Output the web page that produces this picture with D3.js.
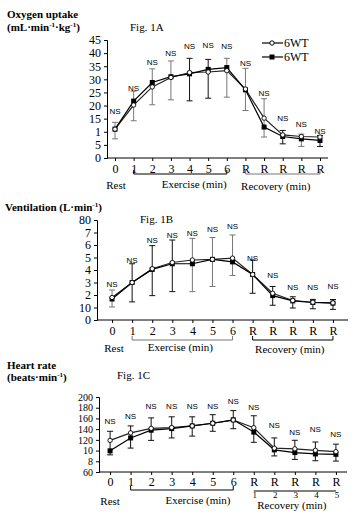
<!DOCTYPE html>
<html><head><meta charset="utf-8">
<script src="https://cdn.jsdelivr.net/npm/d3@7"></script>
<style>body{margin:0;background:#fff}svg{display:block}</style>
</head><body><svg id="c" width="352" height="515"></svg>
<script>
const categories = ["0","1","2","3","4","5","6","R","R","R","R","R"];
const recoveryMinutes = ["1","2","3","4","5"];
const groupLabels = ["Rest","Exercise (min)","Recovery (min)"];
const seriesNames = ["6WT","6WT"];
const nsText = "NS";

// Fig. 1A  Oxygen uptake
const vo2Open   = [11.0,20.2,27.1,30.7,32.6,32.8,33.3,26.3,15.2,8.8,8.2,8.0];
const vo2Filled = [11.0,21.7,28.8,31.0,32.1,33.8,34.5,26.0,11.8,8.2,7.3,6.7];
const vo2ErrHi  = [13.6,25.5,34.0,37.0,38.0,37.6,38.0,34.2,22.6,10.5,9.1,8.6];
const vo2ErrLo  = [7.3,14.2,20.3,22.2,21.8,22.8,23.2,18.1,8.0,5.4,4.4,4.4];
const vo2ErrOf  = ["o","o","o","o","f","f","o","o","o","f","o","f"];
const vo2NS     = [18,26.5,36.5,40,42.6,43.2,42.6,36,24.6,15.1,12.9,10.3];
const vo2Ticks  = [0,5,10,15,20,25,30,35,40,45];
const vo2TickLabels = ["0","5","1","15","20","25","30","35","40","45"];

// Fig. 1B  Ventilation
const veOpen    = [18,30,41,46,48,48.5,49.5,36.4,21.4,15.6,14.2,13.7];
const veFilled  = [16.8,30,40.5,45,45,48.5,46.5,36.4,19.5,15.3,14,13.5];
const veErrHi   = [24,45,59.5,64,65.3,66,68,48,26.8,18.6,16.5,16.4];
const veErrLo   = [10.4,14.5,19.5,22.7,22.7,26.8,35.6,21.4,11.8,9.6,9,8.5];
const veErrOf   = ["o","f","f","f","o","o","o","f","f","f","f","f"];
const veNS      = [29,48,63.5,68,69.3,73,75,49.3,36,26,26,26.7];
const veTicks   = [0,10,20,30,40,50,60,70,80];
const veTickLabels = ["0","10","2","3","4","5","6","7","80"];

// Fig. 1C  Heart rate
const hrOpen    = [119,133,141.5,143,146,151,157,142.7,104.5,103.3,100.5,98];
const hrFilled  = [99.5,123.6,138,141,146,151,157.4,134.5,101.4,96.3,93.7,93];
const hrErrHi   = [136,146,161,163,163,167,174.6,165,123.6,119.2,116,112];
const hrErrLo   = [92,104.6,119,123.6,127,136,140.8,115.4,90,83.5,81,80.4];
const hrErrOf   = ["f","f","f","f","f","f","f","f","f","f","f","f"];
const hrNS      = [154,165,183.7,183.7,183.7,183.7,193,181,146.6,133.4,139.7,131];
const hrTicks   = [60,80,100,120,140,160,180,200];
const hrTickLabels = ["60","8","10","120","140","160","180","200"];

const svg = d3.select("#c");
const SERIF = "'Liberation Serif','Times New Roman',serif";
const SANS = "'Liberation Sans',Arial,sans-serif";

function rich(t, parts){
  let up = false;
  parts.forEach(([txt, s])=>{
    const ts = t.append("tspan").text(txt);
    if(s && !up){ ts.attr("dy",-4); up = true; }
    else if(!s && up){ ts.attr("dy",4); up = false; }
    if(s) ts.attr("font-size","7px");
  });
}

function panel(cfg){
  const g = svg.append("g");
  const idx = d3.range(categories.length);
  const x = d3.scalePoint().domain(idx).range(cfg.xr).padding(cfg.pad);
  const y = d3.scaleLinear().domain(cfg.dom).range(cfg.yr);

  const ya = d3.axisLeft(y).tickValues(cfg.ticks).tickSize(3).tickPadding(3)
     .tickFormat((d,i)=>cfg.tickLabels[i]);
  const yg = g.append("g").attr("transform",`translate(${cfg.xr[0]},0)`).call(ya);
  yg.selectAll("text").attr("font-family",SERIF).attr("font-size",cfg.yfs||"12px").attr("fill","#000");
  yg.selectAll("line,path").attr("stroke","#000");

  const xa = d3.axisBottom(x).tickSize(3).tickPadding(cfg.xpad||3).tickFormat(i=>categories[i]);
  const xg = g.append("g").attr("transform",`translate(0,${cfg.yr[0]})`).call(xa);
  xg.select("path").attr("d",`M${cfg.xr[0]},0H${cfg.xr[1]}`).attr("stroke","#000");
  xg.selectAll("line").attr("stroke","#000");
  xg.selectAll("text").attr("font-family",SERIF).attr("font-size","12px").attr("fill","#000");

  const cap = 3;
  idx.forEach(i=>{
    const col = cfg.errOf[i]==="o" ? "#777" : "#111";
    const xx = x(i);
    g.append("line").attr("x1",xx).attr("x2",xx).attr("y1",y(cfg.hi[i])).attr("y2",y(cfg.lo[i]))
      .attr("stroke",col).attr("stroke-width",1);
    [cfg.hi[i],cfg.lo[i]].forEach(v=>g.append("line").attr("x1",xx-cap).attr("x2",xx+cap)
      .attr("y1",y(v)).attr("y2",y(v)).attr("stroke",col).attr("stroke-width",1));
  });

  const line = d3.line().x((d,i)=>x(i)).y(d=>y(d));
  g.append("path").attr("d",line(cfg.open)).attr("fill","none").attr("stroke","#222").attr("stroke-width",1.2);
  g.append("path").attr("d",line(cfg.filled)).attr("fill","none").attr("stroke","#000").attr("stroke-width",1.2);
  cfg.filled.forEach((v,i)=>g.append("rect").attr("x",x(i)-2.5).attr("y",y(v)-2.5)
    .attr("width",5).attr("height",5).attr("fill","#000"));
  cfg.open.forEach((v,i)=>g.append("circle").attr("cx",x(i)).attr("cy",y(v)).attr("r",2.2)
    .attr("fill","#fff").attr("stroke","#000").attr("stroke-width",0.9));

  cfg.ns.forEach((v,i)=>g.append("text").attr("x",x(i)).attr("y",y(v)).attr("dy","0.35em")
    .attr("text-anchor","middle").attr("font-family",SANS).attr("font-size","8px").text(nsText));

  return {g,x,y};
}

function brackets(p, cfg){
  const {g,x} = p;
  const yb = cfg.by;
  g.append("path").attr("d",`M${x(1)},${yb-4}V${yb}H${x(6)}V${yb-4}`)
    .attr("fill","none").attr("stroke",cfg.exCol).attr("stroke-width",1);
  if(cfg.recLine){
    g.append("line").attr("x1",x(7)).attr("x2",x(11)).attr("y1",yb+1).attr("y2",yb+1).attr("stroke","#000");
    recoveryMinutes.forEach((m,k)=>g.append("text").attr("x",x(7+k)+1).attr("y",yb+8)
      .attr("text-anchor","middle").attr("font-family",SERIF).attr("font-size","9px").text(m));
  } else {
    g.append("path").attr("d",`M${x(7)},${yb-4}V${yb}H${x(11)}V${yb-4}`)
      .attr("fill","none").attr("stroke",cfg.recCol).attr("stroke-width",1);
  }
  const ly = cfg.ly;
  g.append("text").attr("x",x(0)+cfg.restDx).attr("y",ly).attr("text-anchor","middle")
    .attr("font-family",SERIF).attr("font-size","11px").text(groupLabels[0]);
  g.append("text").attr("x",(x(1)+x(6))/2+cfg.exDx).attr("y",ly-1).attr("text-anchor","middle")
    .attr("font-family",SERIF).attr("font-size","11px").text(groupLabels[1]);
  g.append("text").attr("x",(x(7)+x(11))/2+cfg.recDx).attr("y",ly+(cfg.recLy||1)).attr("text-anchor","middle")
    .attr("font-family",SERIF).attr("font-size","11px").text(groupLabels[2]);
}

function boldText(x0,y0){
  return svg.append("text").attr("x",x0).attr("y",y0).attr("font-family",SERIF)
    .attr("font-weight","bold").attr("font-size","11px");
}

// ---------- Panel A
boldText(7,18).text("Oxygen uptake");
rich(boldText(7,31),[["(mL·min",0],["-1",1],["·kg",0],["-1",1],[")",0]]);
svg.append("text").attr("x",130).attr("y",31).attr("font-family",SERIF).attr("font-size","11px").text("Fig. 1A");

const pA = panel({xr:[107,328],pad:0.43,yr:[158,40],dom:[0,45],ticks:vo2Ticks,tickLabels:vo2TickLabels,
  open:vo2Open,filled:vo2Filled,hi:vo2ErrHi,lo:vo2ErrLo,errOf:vo2ErrOf,ns:vo2NS});
brackets(pA,{by:174,exCol:"#000",recCol:"#777",ly:189,restDx:1,exDx:14,recDx:-7});

const lg = svg.append("g");
[[43,"o"],[57,"f"]].forEach(([ly,k],i)=>{
  lg.append("line").attr("x1",262).attr("x2",283).attr("y1",ly).attr("y2",ly).attr("stroke","#000").attr("stroke-width",1.2);
  if(k==="o") lg.append("circle").attr("cx",272).attr("cy",ly).attr("r",2.2).attr("fill","#fff").attr("stroke","#000");
  else lg.append("rect").attr("x",269.5).attr("y",ly-2.5).attr("width",5).attr("height",5).attr("fill","#000");
  lg.append("text").attr("x",284).attr("y",ly+4).attr("font-family",SERIF).attr("font-size","12px").text(seriesNames[i]);
});

// ---------- Panel B
rich(boldText(5,211),[["Ventilation (L·min",0],["-1",1],[")",0]]);
svg.append("text").attr("x",140).attr("y",223).attr("font-family",SERIF).attr("font-size","11px").text("Fig. 1B");
const pB = panel({xr:[97,348],pad:0.75,yr:[320,220],dom:[0,80],ticks:veTicks,tickLabels:veTickLabels,
  open:veOpen,filled:veFilled,hi:veErrHi,lo:veErrLo,errOf:veErrOf,ns:veNS});
brackets(pB,{by:340,exCol:"#777",recCol:"#000",ly:352,restDx:2,exDx:-2,recDx:-3});

// ---------- Panel C
boldText(7,369).text("Heart rate");
rich(boldText(7,381),[["(beats·min",0],["-1",1],[")",0]]);
svg.append("text").attr("x",117).attr("y",379).attr("font-family",SERIF).attr("font-size","11px").text("Fig. 1C");
const pC = panel({xr:[99,347],pad:0.54,yr:[472,397],dom:[60,200],ticks:hrTicks,tickLabels:hrTickLabels,
  open:hrOpen,filled:hrFilled,hi:hrErrHi,lo:hrErrLo,errOf:hrErrOf,ns:hrNS,xpad:2,yfs:"10px"});
brackets(pC,{by:490,exCol:"#000",recLine:true,ly:505,restDx:0,exDx:16,recDx:-3,recLy:4});
</script></body></html>
